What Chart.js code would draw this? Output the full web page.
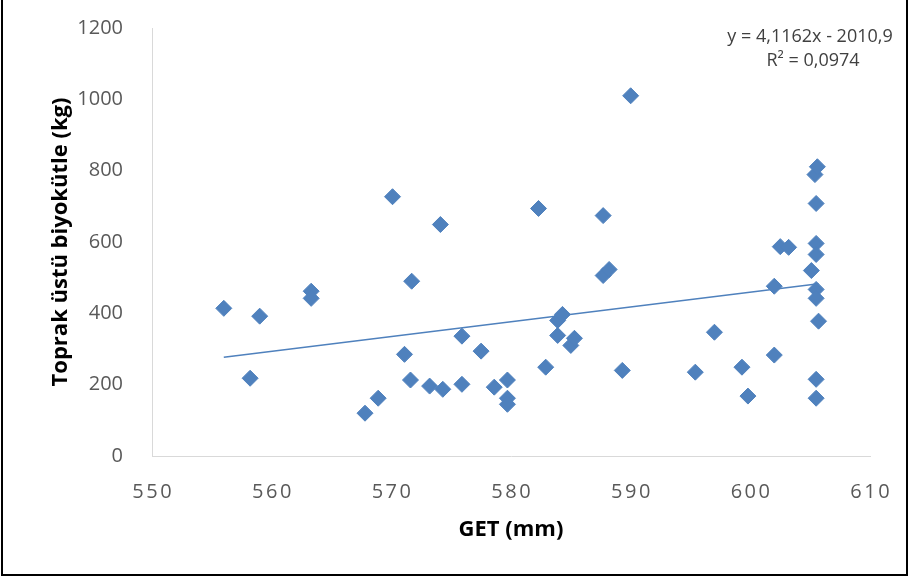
<!DOCTYPE html>
<html>
<head>
<meta charset="utf-8">
<script src="https://cdn.jsdelivr.net/npm/chart.js@4"></script>
<style>
  html, body { margin: 0; padding: 0; background: #fff; }
  #wrap { position: relative; width: 909px; height: 579px; }
  #frame { position: absolute; left: 1px; top: -2px; width: 903px; height: 574px; border: 2px solid #000; pointer-events: none; }
  #eq { position: absolute; left: 690px; top: 23px; width: 240px; text-align: center; font-family: "Open Sans", sans-serif; font-size: 18px; line-height: 24px; color: #404040; }
  #eq span { position: relative; left: 3px; }
</style>
</head>
<body>
<div id="wrap">
  <canvas id="canvas" width="909" height="579"></canvas>
  <div id="eq">y = 4,1162x - 2010,9<br><span>R² = 0,0974</span></div>
  <div id="frame"></div>
</div>
<script>
// GET (mm) vs. above-ground biomass (kg)
const getMm = [556.0, 558.2, 559.0, 563.3, 563.3, 567.8, 568.9, 570.1, 571.1, 571.6,
  571.7, 573.2, 574.3, 574.1, 575.9, 575.9, 577.5, 578.6, 579.7, 579.7,
  579.7, 582.3, 582.9, 583.9, 583.9, 584.3, 585.0, 585.3, 587.7, 587.7,
  588.2, 589.3, 590.0, 595.4, 597.0, 599.3, 599.8, 602.0, 602.0, 602.5,
  603.2, 605.1, 605.4, 605.6, 605.5, 605.5, 605.5, 605.5, 605.5, 605.7,
  605.5, 605.5];
const biyokutle = [414, 218, 392, 462, 442, 120, 162, 727, 285, 213,
  490, 196, 187, 649, 336, 201, 294, 193, 213, 162,
  145, 694, 249, 338, 380, 397, 310, 330, 674, 506,
  523, 240, 1010, 235, 347, 249, 168, 283, 476, 587,
  585, 520, 789, 811, 708, 596, 565, 467, 442, 378,
  215, 162];
// trendline end points
const trendX = [556.0, 605.7];
const trendY = [277, 483];

const blue = '#4f81bd';

// spread out the x tick digits a little, like the original
const spacedX = {
  id: 'spacedX',
  beforeDraw(chart) {
    const xs = chart.scales.x;
    if (xs._spaced) return;
    const orig = xs.drawLabels.bind(xs);
    xs.drawLabels = function (area) {
      const c = this.ctx;
      c.save();
      c.letterSpacing = '2.5px';
      c.translate(1.25, 0);
      orig(area);
      c.restore();
    };
    xs._spaced = true;
  }
};

new Chart(document.getElementById('canvas').getContext('2d'), {
  type: 'scatter',
  data: {
    datasets: [{
      label: 'Biyokütle',
      data: getMm.map((x, i) => ({ x: x, y: biyokutle[i] })),
      pointStyle: 'rectRot',
      pointRadius: 8,
      pointBorderWidth: 1,
      backgroundColor: blue,
      borderColor: blue
    }, {
      type: 'line',
      label: 'Trend',
      data: trendX.map((x, i) => ({ x: x, y: trendY[i] })),
      borderColor: blue,
      borderWidth: 1.5,
      pointRadius: 0,
      fill: false
    }]
  },
  options: {
    responsive: false,
    animation: false,
    layout: { padding: { top: 28, right: 39, bottom: 0, left: 0 } },
    plugins: {
      legend: { display: false },
      tooltip: { enabled: false }
    },
    scales: {
      x: {
        type: 'linear',
        min: 550,
        max: 610,
        afterFit: s => { s.height = 123; },
        grid: { display: false },
        border: { display: true, color: '#d9d9d9', width: 1 },
        ticks: {
          stepSize: 10,
          padding: 16,
          color: '#595959',
          format: { useGrouping: false },
          font: { family: 'Open Sans', size: 20 }
        },
        title: {
          display: true,
          text: 'GET (mm)',
          color: '#000',
          padding: { bottom: 36 },
          font: { family: 'Open Sans', size: 22, weight: 'bold' }
        }
      },
      y: {
        min: 0,
        max: 1200,
        afterFit: s => { s.width = 152; s.paddingTop = 0; s.paddingBottom = 0; },
        grid: { display: false },
        border: { display: true, color: '#d9d9d9', width: 1 },
        ticks: {
          stepSize: 200,
          padding: 21,
          color: '#595959',
          format: { useGrouping: false },
          font: { family: 'Open Sans', size: 20 }
        },
        title: {
          display: true,
          text: 'Toprak üstü biyokütle (kg)',
          color: '#000',
          padding: { top: 48 },
          font: { family: 'Open Sans', size: 22, weight: 'bold' }
        }
      }
    }
  },
  plugins: [spacedX]
});
</script>
</body>
</html>
